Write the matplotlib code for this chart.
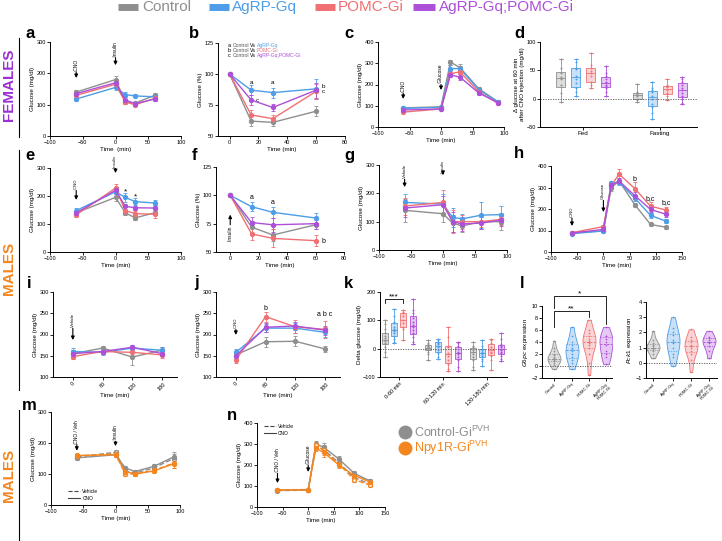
import numpy as np
import matplotlib
matplotlib.use('Agg')
import matplotlib.pyplot as plt
from matplotlib.lines import Line2D

plt.rcParams['font.family'] = ['Liberation Sans', 'DejaVu Sans']
plt.rcParams['mathtext.fontset'] = 'custom'
plt.rcParams['mathtext.rm'] = 'Liberation Sans'

# ---------------- data ----------------
GROUPS = ['Control', 'AgRP-Gq', 'POMC-Gi', 'AgRP-Gq;POMC-Gi']

A_X = [-60, 0, 15, 30, 60]
A_Y = [[140, 180, 110, 105, 130], [118, 155, 132, 128, 125],
       [130, 165, 108, 100, 120], [135, 170, 115, 103, 118]]
A_E = [[8, 12, 8, 5, 8], [6, 8, 8, 5, 6], [6, 10, 6, 5, 8], [8, 10, 8, 5, 6]]

B_X = [0, 15, 30, 60]
B_Y = [[100, 62, 61, 70], [100, 87, 85, 88], [100, 67, 64, 86], [100, 79, 73, 87]]
B_E = [[0, 4, 3, 4], [0, 4, 4, 8], [0, 4, 3, 6], [0, 4, 3, 6]]

C_X = [-60, 0, 15, 30, 60, 90]
C_Y = [[90, 95, 305, 280, 180, 120], [88, 92, 275, 275, 175, 118],
       [70, 85, 250, 260, 165, 112], [80, 85, 245, 235, 160, 115]]
C_E = [[6, 6, 12, 15, 10, 8], [6, 6, 15, 12, 10, 8],
       [6, 6, 12, 12, 10, 6], [6, 6, 12, 15, 10, 8]]

D_FED = [[-5, 10, 25, 35, 38, 45, 55, 70],
         [5, 12, 18, 28, 35, 40, 52, 55, 65, 70],
         [18, 25, 30, 40, 45, 48, 55, 60, 80],
         [5, 12, 18, 22, 25, 28, 30, 35, 40, 45, 58]]
D_FAST = [[-5, -2, 0, 5, 8, 10, 12, 26],
          [-35, -25, -15, -10, 0, 5, 12, 15, 18, 30],
          [-2, 5, 10, 15, 20, 22, 25, 35],
          [-10, -8, 0, 5, 10, 15, 18, 25, 30, 35, 38]]

E_X = [-60, 0, 15, 30, 60]
E_Y = [[140, 195, 140, 122, 140], [148, 215, 195, 180, 175],
       [133, 228, 148, 137, 135], [140, 220, 163, 158, 157]]
E_E = [[8, 12, 8, 8, 8], [8, 15, 15, 12, 12], [8, 15, 12, 10, 15], [8, 12, 10, 8, 10]]

F_X = [0, 15, 30, 60]
F_Y = [[100, 72, 65, 74], [100, 90, 85, 80], [100, 66, 62, 60], [100, 76, 74, 75]]
F_E = [[0, 5, 5, 4], [0, 4, 5, 4], [0, 5, 8, 5], [0, 5, 6, 5]]

G_X = [-60, 0, 15, 30, 60, 90]
G_Y = [[140, 128, 95, 85, 100, 100], [168, 162, 115, 110, 123, 125],
       [155, 168, 100, 100, 100, 108], [148, 160, 100, 92, 95, 105]]
G_E = [[40, 30, 30, 20, 25, 30], [28, 35, 35, 18, 45, 32],
       [30, 45, 40, 25, 20, 20], [30, 30, 35, 25, 20, 20]]

H_X = [-60, 0, 15, 30, 60, 90, 120]
H_Y = [[90, 98, 300, 330, 220, 128, 115], [85, 98, 320, 325, 250, 170, 143],
       [90, 118, 310, 362, 295, 213, 195], [88, 105, 310, 330, 262, 198, 175]]
H_E = [[5, 6, 15, 12, 10, 8, 6], [5, 6, 12, 15, 15, 12, 10],
       [5, 8, 15, 25, 30, 20, 15], [5, 6, 12, 15, 15, 12, 12]]

I_X = [0, 60, 120, 180]
I_Y = [[155, 168, 147, 163], [160, 158, 168, 163], [148, 160, 158, 152], [155, 160, 170, 155]]
I_E = [[8, 6, 18, 8], [8, 6, 6, 8], [6, 6, 8, 8], [8, 6, 6, 6]]

J_X = [0, 60, 120, 180]
J_Y = [[152, 183, 184, 166], [158, 215, 215, 205], [140, 242, 218, 212], [150, 217, 220, 210]]
J_E = [[8, 12, 12, 8], [8, 10, 12, 12], [8, 12, 15, 20], [8, 10, 10, 10]]

K_PERIODS = ['0-60 min', '60-120 min', '120-180 min']
K_0_60 = [[-28, -10, 5, 15, 20, 28, 32, 38, 45, 55, 70, 88, 100],
          [20, 25, 35, 45, 55, 62, 65, 70, 78, 90, 95, 115, 140],
          [30, 70, 75, 90, 100, 115, 125, 130, 138],
          [15, 25, 40, 55, 65, 75, 85, 95, 110, 125, 135, 175]]
K_60_120 = [[-40, -20, -10, -5, 0, 2, 5, 8, 10, 15, 20, 30],
            [-35, -28, -15, -5, 5, 10, 15, 20, 25, 30, 35],
            [-80, -70, -55, -40, -25, -15, 5, 10, 40, 75],
            [-80, -65, -40, -30, -20, -15, -10, 0, 10, 20, 25]]
K_120_180 = [[-75, -65, -40, -30, -20, -10, -5, 0, 5, 10, 25],
             [-60, -45, -35, -25, -18, -15, -10, -5, 0, 10, 30],
             [-75, -40, -25, -15, -10, 0, 5, 20, 30, 35],
             [-45, -35, -25, -15, -10, -5, 0, 5, 10, 15, 35, 55]]

L_LABELS = ['Control', 'AgRP-Gq', 'POMC-Gi', 'AgRP-Gq;\nPOMC-Gi']
L_G6PC = [[-0.5, 0.2, 0.5, 0.8, 1.0, 1.1, 1.2, 1.3, 1.5, 1.8, 2.0, 2.5, 3.0, 4.2],
          [-0.5, 0.5, 1.0, 1.5, 2.0, 2.5, 2.8, 3.0, 3.5, 4.0, 5.0, 6.5],
          [-1.5, 0.5, 2.0, 3.0, 3.5, 3.8, 4.0, 4.2, 4.5, 5.0, 5.5, 6.0, 7.7],
          [0.3, 1.5, 2.0, 2.5, 3.5, 4.0, 4.5, 5.0, 5.0, 6.5]]
L_PCK1 = [[0.3, 0.6, 0.8, 0.9, 1.0, 1.0, 1.1, 1.2, 1.3, 1.5, 2.1],
          [-0.2, 0.4, 0.6, 1.0, 1.3, 1.4, 1.5, 1.8, 2.0, 2.3, 3.0],
          [-0.6, 0.2, 0.6, 0.8, 1.0, 1.1, 1.2, 1.4, 1.5, 1.7, 2.2],
          [0.3, 0.8, 1.1, 1.3, 1.4, 1.5, 1.6, 1.7, 2.1]]

M_X = [-60, 0, 15, 30, 60, 90]
M_CTRL_VEH = [155, 170, 110, 103, 120, 150]
M_CTRL_CNO = [152, 162, 120, 108, 125, 155]
M_NPY_VEH = [158, 165, 100, 100, 112, 135]
M_NPY_CNO = [160, 162, 108, 100, 110, 133]
M_E = [6, 8, 6, 5, 6, 15]

N_X = [-60, 0, 15, 30, 60, 90, 120]
N_CTRL_VEH = [78, 80, 290, 275, 210, 140, 110]
N_CTRL_CNO = [80, 82, 300, 285, 228, 160, 125]
N_NPY_VEH = [82, 83, 295, 270, 205, 130, 105]
N_NPY_CNO = [80, 82, 280, 260, 200, 150, 120]
N_E = [5, 5, 15, 20, 15, 10, 8]

# ---------------- style ----------------
GRAY = '#8f8f8f'
BLUE = '#4d9de8'
RED = '#f07073'
PURPLE = '#ad4fd9'
ORANGE = '#f5861f'
COLS = [GRAY, BLUE, RED, PURPLE]
FEM = '#9b2fd4'

W, H = 722, 541
fig = plt.figure(figsize=(W / 100, H / 100), dpi=100)

TK = 4.0
LB = 4.5


def add_ax(l, t, r, b):
    ax = fig.add_axes([l / W, 1 - b / H, (r - l) / W, (b - t) / H])
    for s in ['top', 'right']:
        ax.spines[s].set_visible(False)
    for s in ['left', 'bottom']:
        ax.spines[s].set_linewidth(0.7)
    ax.tick_params(labelsize=TK, length=2, width=0.6, pad=1)
    ax.patch.set_alpha(0)
    return ax


def series(ax, x, y, e, c, ls='-', mfc=None, ms=2.8, z=3):
    ax.errorbar(x, y, yerr=e, color=c, marker='o', ms=ms, lw=1.0, elinewidth=0.6,
                capsize=1.2, capthick=0.6, ls=ls, mfc=mfc if mfc else c, mec=c,
                zorder=z, clip_on=False)


def arrow(ax, x, ytip, ytail, label, fs=3.5, up=False):
    ax.annotate('', xy=(x, ytip), xytext=(x, ytail),
                arrowprops=dict(arrowstyle='-|>', color='k', lw=0.8, mutation_scale=5,
                                shrinkA=0, shrinkB=0), annotation_clip=False)
    if up:
        ax.text(x, ytail, label + ' ', rotation=90, ha='center', va='top', fontsize=fs,
                clip_on=False)
    else:
        ax.text(x, ytail, ' ' + label, rotation=90, ha='center', va='bottom', fontsize=fs,
                clip_on=False)


def letter(x, y, s):
    fig.text(x / W, 1 - y / H, s, fontsize=12, fontweight='bold', ha='left', va='center')


def boxes(ax, data, positions, width):
    for d, p, c in zip(data, positions, COLS):
        bp = ax.boxplot([d], positions=[p], widths=width, whis=(0, 100), patch_artist=True,
                        showfliers=False, manage_ticks=False)
        for b in bp['boxes']:
            b.set_facecolor(matplotlib.colors.to_rgba(c, 0.3))
            b.set_edgecolor(c)
            b.set_linewidth(0.6)
        for k in ['whiskers', 'caps', 'medians']:
            for l in bp[k]:
                l.set_color(c)
                l.set_linewidth(0.6)
        for l in bp['caps']:
            l.set_xdata([p - width * 0.25, p + width * 0.25])
        ax.scatter([p] * len(d), d, s=2, color=c, zorder=4, linewidths=0)


def violins(ax, data, positions, half):
    for d, p, c in zip(data, positions, COLS):
        d = np.asarray(d, float)
        bw = 1.06 * d.std() * len(d) ** (-0.2)
        ys = np.linspace(d.min(), d.max(), 200)
        dens = np.exp(-0.5 * ((ys[:, None] - d[None, :]) / bw) ** 2).sum(1)
        wid = dens / dens.max() * half
        ax.fill_betweenx(ys, p - wid, p + wid, facecolor=matplotlib.colors.to_rgba(c, 0.3),
                         edgecolor=c, linewidth=0.6)
        for q, lw in zip(np.percentile(d, [25, 50, 75]), [0.5, 0.7, 0.5]):
            wq = np.interp(q, ys, wid)
            ax.plot([p - wq, p + wq], [q, q], color=c, lw=lw, ls=(0, (2, 1.5)))
        ax.scatter([p] * len(d), d, s=1.5, color=c, zorder=4, linewidths=0)


# ---------------- overlay (pixel coords) ----------------
ov = fig.add_axes([0, 0, 1, 1])
ov.set_xlim(0, W)
ov.set_ylim(H, 0)
ov.axis('off')

leg_items = [(118, 138, 142, GRAY), (209, 229, 232, BLUE), (315, 335, 338, RED), (413, 435, 439, PURPLE)]
for (x0, x1, xt, c), g in zip(leg_items, GROUPS):
    ov.plot([x0, x1], [7, 7], color=c, lw=5, solid_capstyle='butt')
    ov.text(xt, 7, g, color=c, fontsize=11, va='center', ha='left')

ov.plot([19, 19], [38, 137], color='k', lw=0.8)
ov.plot([19, 19], [150, 390], color='k', lw=0.8)
ov.plot([19, 19], [410, 541], color='k', lw=0.8)
ov.text(9, 85, 'FEMALES', rotation=90, color=FEM, fontsize=11, fontweight='bold', ha='center', va='center')
ov.text(9, 268, 'MALES', rotation=90, color=ORANGE, fontsize=11, fontweight='bold', ha='center', va='center')
ov.text(9, 475, 'MALES', rotation=90, color=ORANGE, fontsize=11, fontweight='bold', ha='center', va='center')

ov.plot([405], [432], 'o', color=GRAY, ms=9)
ov.text(414, 432, r'Control-Gi$^{\mathrm{PVH}}$', color=GRAY, fontsize=9, va='center')
ov.plot([405], [448], 'o', color=ORANGE, ms=9)
ov.text(414, 448, r'Npy1R-Gi$^{\mathrm{PVH}}$', color=ORANGE, fontsize=9, va='center')

# ---------------- panel a ----------------
ax = add_ax(50, 42, 181, 136)
for y, e, c in zip(A_Y, A_E, COLS):
    series(ax, A_X, y, e, c)
ax.set_xlim(-100, 100); ax.set_ylim(0, 300)
ax.set_xticks([-100, -50, 0, 50, 100]); ax.set_yticks([0, 100, 200, 300])
ax.set_ylabel('Glucose (mg/dl)', fontsize=LB, labelpad=1)
ax.set_xlabel('Time  (min)', fontsize=LB, labelpad=1)
arrow(ax, -60, 185, 205, 'CNO')
arrow(ax, 0, 226, 250, 'Insulin')
letter(25, 33, 'a')

# ---------------- panel b ----------------
ax = add_ax(218, 43, 345, 136)
for y, e, c in zip(B_Y, B_E, COLS):
    series(ax, B_X, y, e, c)
ax.set_xlim(-8, 80); ax.set_ylim(50, 125)
ax.set_xticks([0, 20, 40, 60, 80]); ax.set_yticks([50, 75, 100, 125])
ax.set_ylabel('Glucose (%)', fontsize=LB, labelpad=1)
ax.set_xlabel('Time (min)', fontsize=LB, labelpad=1)
for yy, (l, g, c) in zip([123, 119, 115], [('a', 'AgRP-Gq', BLUE), ('b', 'POMC-Gi', RED), ('c', 'AgRP-Gq;POMC-Gi', PURPLE)]):
    ax.text(-1, yy, l, fontsize=4, va='center')
    ax.text(2, yy, 'Control', fontsize=3.6, va='center', color='#555555')
    ax.text(14, yy, 'Vs', fontsize=3.6, va='center')
    ax.text(19, yy, g, fontsize=3.6, va='center', color=c)
ax.text(15, 92, 'a', fontsize=4.5, ha='center')
ax.text(30, 92, 'a', fontsize=4.5, ha='center')
ax.text(18, 79, 'c', fontsize=4.5, va='center')
ax.text(64, 90, 'b', fontsize=4.5, va='center')
ax.text(64, 86, 'c', fontsize=4.5, va='center')
letter(189, 33, 'b')

# ---------------- panel c ----------------
ax = add_ax(378, 42, 504, 127)
for y, e, c in zip(C_Y, C_E, COLS):
    series(ax, C_X, y, e, c)
ax.set_xlim(-100, 100); ax.set_ylim(0, 400)
ax.set_xticks([-100, -50, 0, 50, 100]); ax.set_yticks([0, 100, 200, 300, 400])
ax.set_ylabel('Glucose (mg/dl)', fontsize=LB, labelpad=1)
ax.set_xlabel('Time (min)', fontsize=LB, labelpad=1)
arrow(ax, -60, 132, 160, 'CNO')
arrow(ax, 0, 174, 200, 'Glucose')
letter(344, 33, 'c')

# ---------------- panel d ----------------
ax = add_ax(540, 42, 697, 127)
boxes(ax, D_FED, [1.4, 2.4, 3.4, 4.4], 0.6)
boxes(ax, D_FAST, [6.5, 7.5, 8.5, 9.5], 0.6)
ax.axhline(0, color='#555555', lw=0.6, ls=(0, (1.5, 1.5)))
ax.set_xlim(0, 10.5); ax.set_ylim(-50, 100)
ax.set_yticks([-50, 0, 50, 100])
ax.set_xticks([2.9, 8.0]); ax.set_xticklabels(['Fed', 'Fasting'], fontsize=LB)
ax.set_ylabel('Δ glucose at 60 min\nafter CNO injection (mg/dl)', fontsize=LB, labelpad=1)
letter(514, 33, 'd')

# ---------------- panel e ----------------
ax = add_ax(50, 168, 181, 252)
for y, e, c in zip(E_Y, E_E, COLS):
    series(ax, E_X, y, e, c)
ax.set_xlim(-100, 100); ax.set_ylim(0, 300)
ax.set_xticks([-100, -50, 0, 50, 100]); ax.set_yticks([0, 100, 200, 300])
ax.set_ylabel('Glucose (mg/dl)', fontsize=LB, labelpad=1)
ax.set_xlabel('Time (min)', fontsize=LB, labelpad=1)
arrow(ax, -60, 186, 220, 'CNO', fs=3)
arrow(ax, 0, 282, 298, 'Insulin', fs=3)
ax.text(15, 208, '*', fontsize=6, ha='center')
ax.text(30, 193, '*', fontsize=6, ha='center')
letter(25, 155, 'e')

# ---------------- panel f ----------------
ax = add_ax(216, 167, 344, 252)
for y, e, c in zip(F_Y, F_E, COLS):
    series(ax, F_X, y, e, c)
ax.set_xlim(-10, 80); ax.set_ylim(50, 125)
ax.set_xticks([0, 20, 40, 60, 80]); ax.set_yticks([50, 75, 100, 125])
ax.set_ylabel('Glucose (%)', fontsize=LB, labelpad=1)
ax.set_xlabel('Time (min)', fontsize=LB, labelpad=1)
arrow(ax, 0, 83, 74, 'Insulin', up=True)
ax.text(15, 97, 'a', fontsize=5, ha='center')
ax.text(30, 92, 'a', fontsize=5, ha='center')
ax.text(64, 59, 'b', fontsize=5, va='center')
letter(192, 155, 'f')

# ---------------- panel g ----------------
ax = add_ax(379, 165, 507, 250)
for y, e, c in zip(G_Y, G_E, COLS):
    series(ax, G_X, y, e, c)
ax.set_xlim(-100, 100); ax.set_ylim(0, 300)
ax.set_xticks([-100, -50, 0, 50, 100]); ax.set_yticks([0, 100, 200, 300])
ax.set_ylabel('Glucose (mg/dl)', fontsize=LB, labelpad=1)
ax.set_xlabel('Time (min)', fontsize=LB, labelpad=1)
arrow(ax, -60, 222, 250, 'Vehicle', fs=3)
arrow(ax, 0, 265, 270, 'Insulin', fs=3)
letter(344, 155, 'g')

# ---------------- panel h ----------------
ax = add_ax(551, 166, 682, 252)
for y, e, c in zip(H_Y, H_E, COLS):
    series(ax, H_X, y, e, c)
ax.set_xlim(-100, 150); ax.set_ylim(0, 400)
ax.set_xticks([-100, -50, 0, 50, 100, 150]); ax.set_yticks([0, 100, 200, 300, 400])
ax.set_ylabel('Glucose (mg/dl)', fontsize=LB, labelpad=1)
ax.set_xlabel('Time (min)', fontsize=LB, labelpad=1)
arrow(ax, -60, 121, 158, 'CNO', fs=3)
arrow(ax, 0, 186, 240, 'Glucose', fs=3)
ax.text(60, 328, 'b', fontsize=5, ha='center')
ax.text(90, 243, 'b,c', fontsize=5, ha='center')
ax.text(120, 223, 'b,c', fontsize=5, ha='center')
letter(514, 153, 'h')

# ---------------- panel i ----------------
ax = add_ax(53, 292, 177, 377)
for y, e, c in zip(I_Y, I_E, COLS):
    series(ax, I_X, y, e, c)
ax.set_xlim(-40, 210); ax.set_ylim(100, 300)
ax.set_xticks(I_X); ax.set_xticklabels([str(v) for v in I_X], rotation=45)
ax.set_yticks([100, 150, 200, 250, 300])
ax.set_ylabel('Glucose (mg/dl)', fontsize=LB, labelpad=1)
ax.set_xlabel('Time (min)', fontsize=LB, labelpad=1)
arrow(ax, 0, 187, 215, 'Vehicle', fs=3)
letter(27, 283, 'i')

# ---------------- panel j ----------------
ax = add_ax(216, 292, 340, 377)
for y, e, c in zip(J_Y, J_E, COLS):
    series(ax, J_X, y, e, c)
ax.set_xlim(-40, 210); ax.set_ylim(100, 300)
ax.set_xticks(J_X); ax.set_xticklabels([str(v) for v in J_X], rotation=45)
ax.set_yticks([100, 150, 200, 250, 300])
ax.set_ylabel('Glucose (mg/dl)', fontsize=LB, labelpad=1)
ax.set_xlabel('Time (min)', fontsize=LB, labelpad=1)
arrow(ax, 0, 199, 212, 'CNO', fs=3)
ax.text(60, 258, 'b', fontsize=5, ha='center')
ax.text(180, 244, 'a b c', fontsize=5, ha='center')
letter(194, 283, 'j')

# ---------------- panel k ----------------
ax = add_ax(380, 292, 507, 377)
kpos = [[5, 14, 23, 33], [48, 58, 68, 78], [93, 102, 111, 121]]
for dat, pos in zip([K_0_60, K_60_120, K_120_180], kpos):
    boxes(ax, dat, pos, 6.5)
ax.axhline(0, color='#555555', lw=0.6, ls=(0, (1.5, 1.5)))
ax.set_xlim(0, 127); ax.set_ylim(-100, 200)
ax.set_yticks([-100, 0, 100, 200])
ax.set_xticks([19, 63, 107]); ax.set_xticklabels(K_PERIODS, rotation=45, ha='right',
                                                 rotation_mode='anchor', fontsize=TK)
ax.set_ylabel('Delta glucose (mg/dl)', fontsize=LB, labelpad=1)
ax.plot([5, 5, 23, 23], [160, 175, 175, 160], color='k', lw=0.6, clip_on=False)
ax.text(14, 172, '***', fontsize=6, ha='center', va='bottom')
letter(344, 283, 'k')

# ---------------- panel l ----------------
ax = add_ax(542, 306, 612, 378)
violins(ax, L_G6PC, [12, 30, 47, 64], 6.5)
ax.axhline(0, color='#555555', lw=0.6, ls=(0, (1.5, 1.5)))
ax.set_xlim(0, 70); ax.set_ylim(-2, 10)
ax.set_yticks([-2, 0, 2, 4, 6, 8, 10])
ax.set_xticks([12, 30, 47, 64]); ax.set_xticklabels(L_LABELS, rotation=45, ha='right',
                                                     rotation_mode='anchor', fontsize=3)
ax.set_ylabel(r'$\it{G6pc}$ expression', fontsize=LB, labelpad=1)
ax.plot([12, 12, 47, 47], [6.5, 9.2, 9.2, 8.2], color='k', lw=0.6, clip_on=False)
ax.text(29.5, 9.0, '**', fontsize=6, ha='center', va='bottom')
ax.plot([12, 12, 64, 64], [9.7, 11.7, 11.7, 7.0], color='k', lw=0.6, clip_on=False)
ax.text(38, 11.5, '*', fontsize=6, ha='center', va='bottom')
letter(520, 283, 'l')

ax = add_ax(646, 302, 717, 378)
violins(ax, L_PCK1, [7, 27, 45, 63], 6.5)
ax.axhline(0, color='#555555', lw=0.6, ls=(0, (1.5, 1.5)))
ax.set_xlim(0, 71); ax.set_ylim(-1, 4)
ax.set_yticks([-1, 0, 1, 2, 3, 4])
ax.set_xticks([7, 27, 45, 63]); ax.set_xticklabels(L_LABELS, rotation=45, ha='right',
                                                    rotation_mode='anchor', fontsize=3)
ax.set_ylabel(r'$\it{Pck1}$ expression', fontsize=LB, labelpad=1)

# ---------------- panel m ----------------
ax = add_ax(51, 412, 180, 505)
series(ax, M_X, M_CTRL_VEH, M_E, GRAY, ls='--', mfc='white')
series(ax, M_X, M_CTRL_CNO, M_E, GRAY)
series(ax, M_X, M_NPY_VEH, M_E, ORANGE, ls='--', mfc='white')
series(ax, M_X, M_NPY_CNO, M_E, ORANGE)
ax.set_xlim(-100, 100); ax.set_ylim(0, 300)
ax.set_xticks([-100, -50, 0, 50, 100]); ax.set_yticks([0, 100, 200, 300])
ax.set_ylabel('Glucose (mg/dl)', fontsize=LB, labelpad=1)
ax.set_xlabel('Time (min)', fontsize=LB, labelpad=1)
arrow(ax, -60, 175, 195, 'CNO / Veh', fs=3.5)
arrow(ax, 0, 190, 205, 'Insulin', fs=3.5)
hd = [Line2D([], [], color='#444444', lw=0.8, ls='--'), Line2D([], [], color='#444444', lw=0.8)]
ax.legend(hd, ['Vehicle', 'CNO'], loc='lower left', bbox_to_anchor=(0.1, 0.0), fontsize=3.5,
          frameon=False, handlelength=2.5, handletextpad=0.4, labelspacing=0.4)
letter(22, 405, 'm')

# ---------------- panel n ----------------
ax = add_ax(257, 423, 385, 507)
series(ax, N_X, N_CTRL_VEH, N_E, GRAY, ls='--', mfc='white')
series(ax, N_X, N_CTRL_CNO, N_E, GRAY)
series(ax, N_X, N_NPY_VEH, N_E, ORANGE, ls='--', mfc='white')
series(ax, N_X, N_NPY_CNO, N_E, ORANGE)
ax.set_xlim(-100, 150); ax.set_ylim(0, 400)
ax.set_xticks([-100, -50, 0, 50, 100, 150]); ax.set_yticks([0, 100, 200, 300, 400])
ax.set_ylabel('Glucose (mg/dl)', fontsize=LB, labelpad=1)
ax.set_xlabel('Time (min)', fontsize=LB, labelpad=1)
arrow(ax, -60, 114, 160, 'CNO / Veh', fs=3.5)
arrow(ax, 0, 167, 200, 'Glucose', fs=3.5)
ax.legend(hd, ['Vehicle', 'CNO'], loc='upper left', bbox_to_anchor=(0.02, 1.04), fontsize=3.5,
          frameon=False, handlelength=2.5, handletextpad=0.4, labelspacing=0.4)
letter(227, 416, 'n')

fig.savefig('out.png', dpi=100)
